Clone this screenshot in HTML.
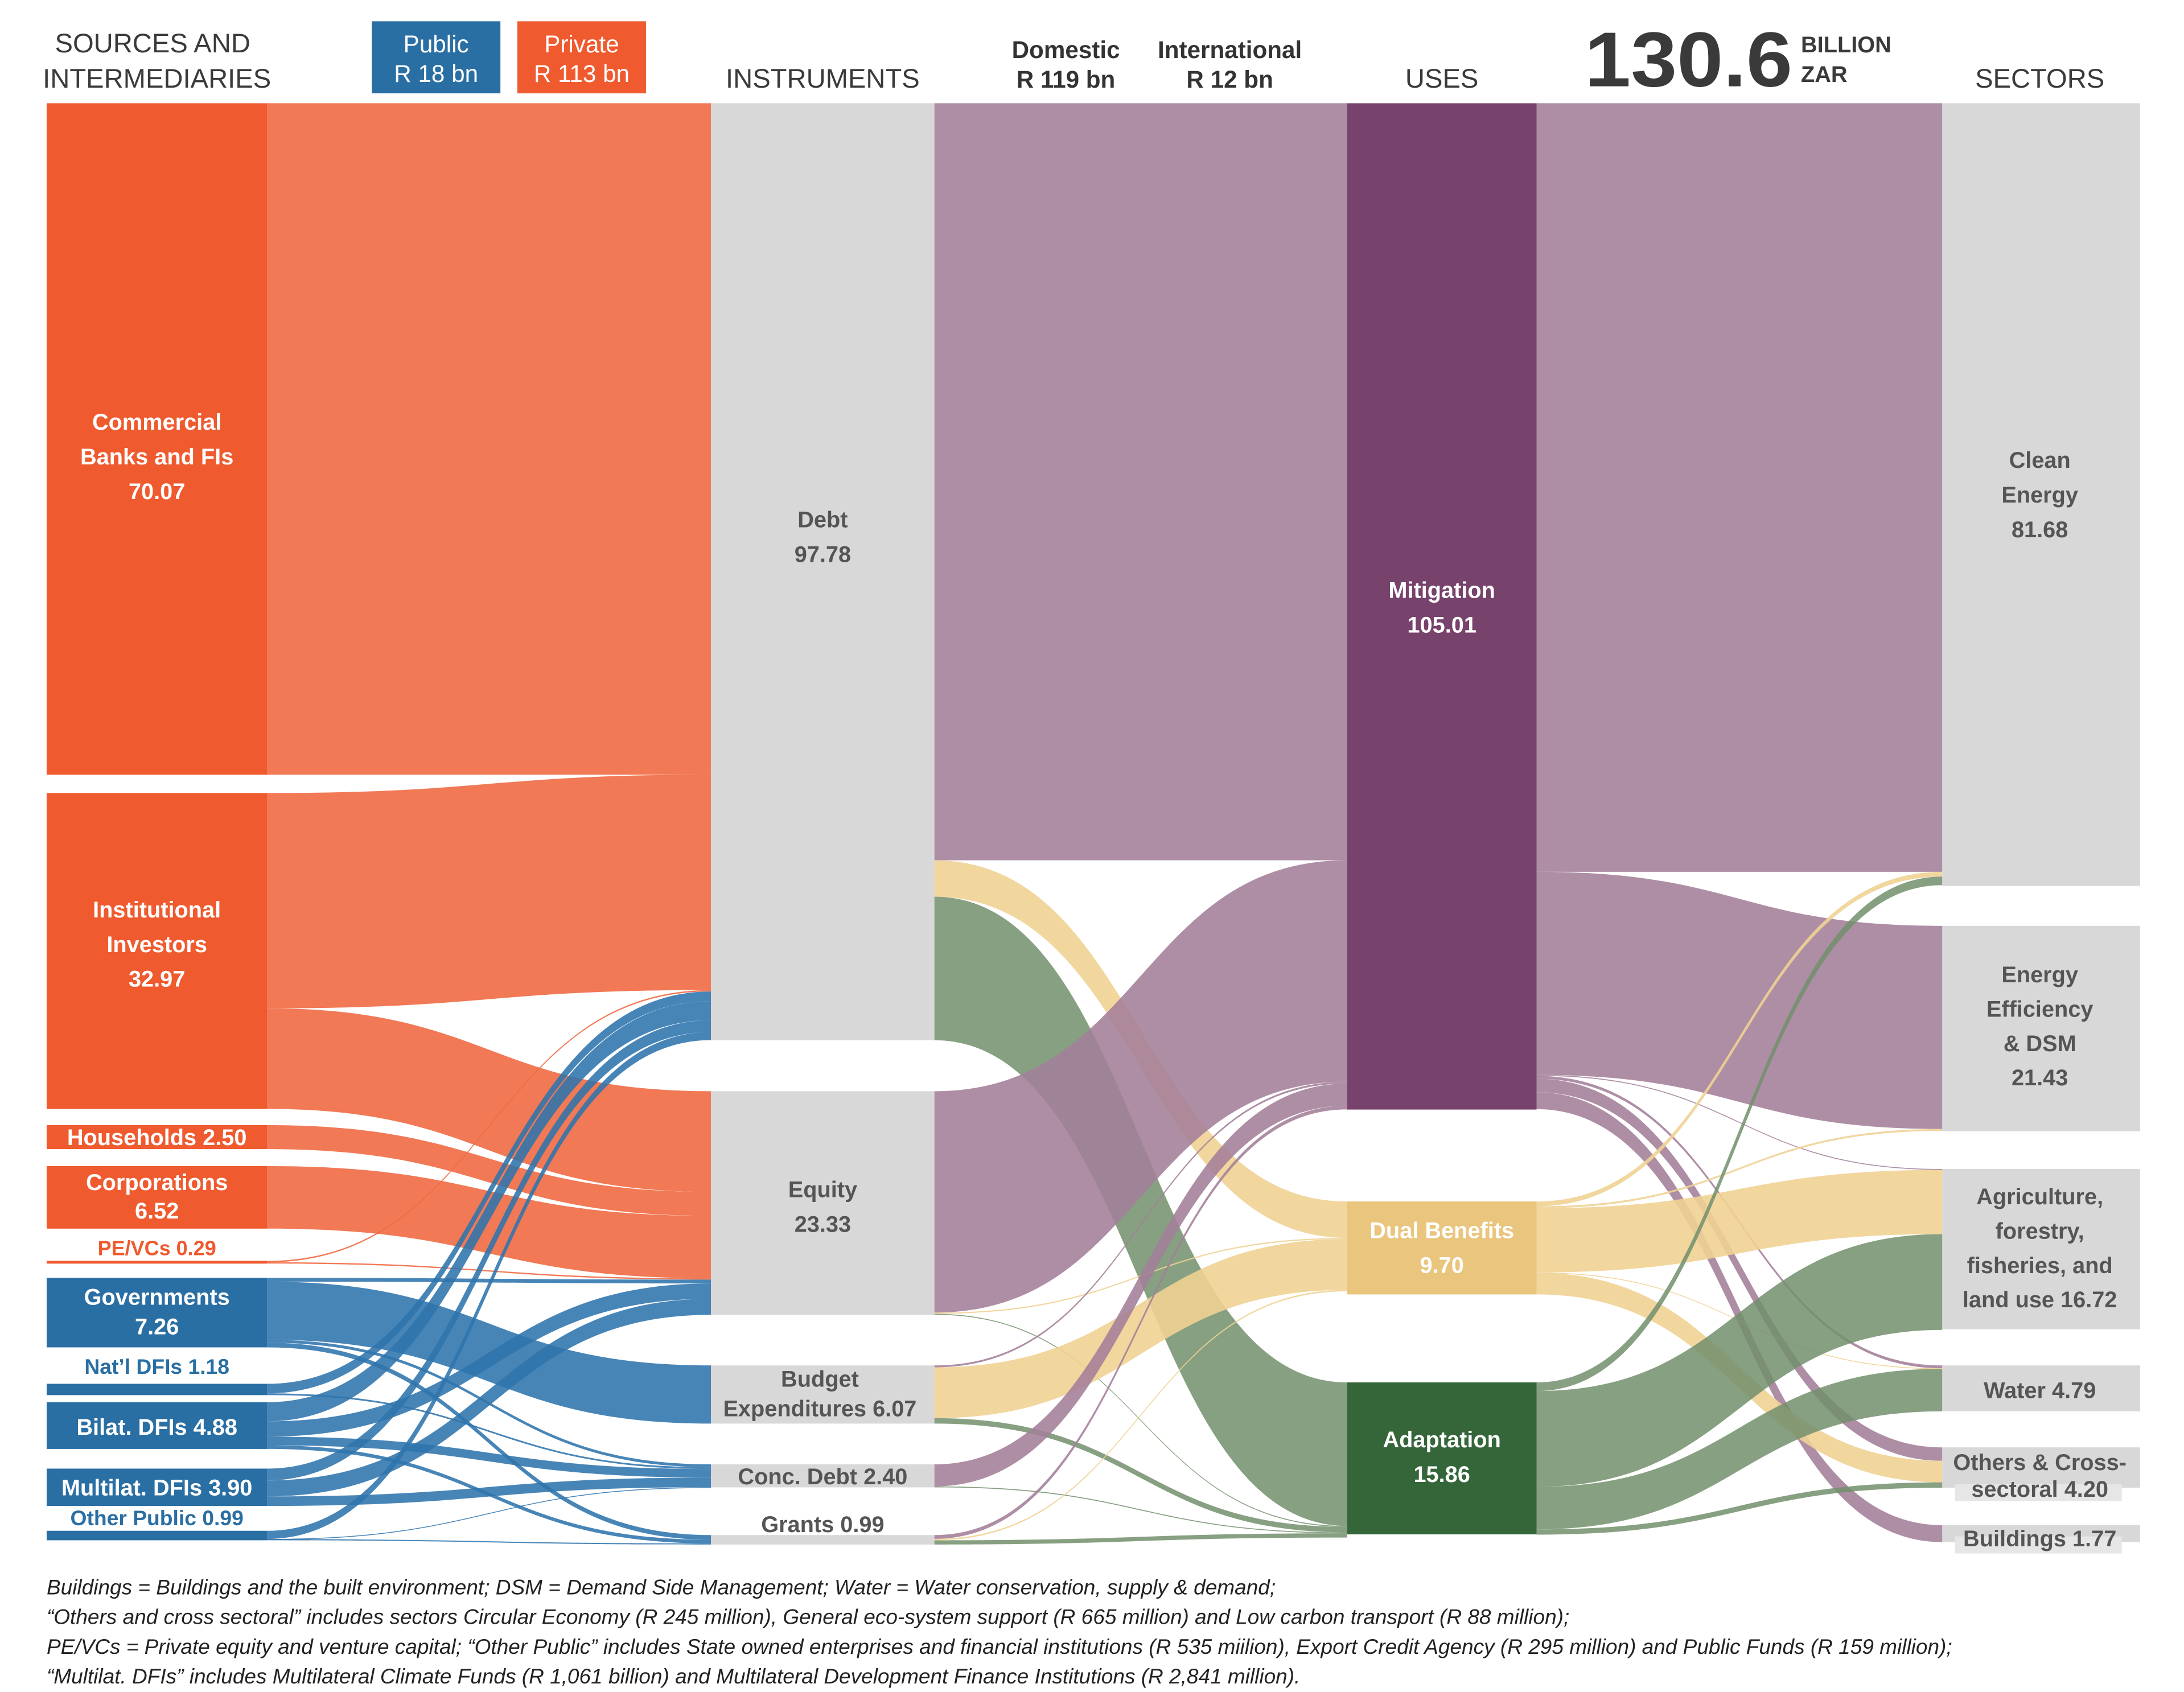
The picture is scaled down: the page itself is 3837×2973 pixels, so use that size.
<!DOCTYPE html>
<html><head><meta charset="utf-8">
<style>
html,body{margin:0;padding:0;background:#fff;}
svg{display:block;font-family:"Liberation Sans",sans-serif;}
.hd{font-size:19px;fill:#3a3a3a;text-anchor:middle;}
.nl{font-size:16px;font-weight:bold;fill:#fff;text-anchor:middle;}
.gl{font-size:16px;font-weight:bold;fill:#555;text-anchor:middle;}
.fn{font-size:14.9px;font-style:italic;fill:#222;}
</style></head>
<body>
<svg id="chart" width="3837" height="2973" viewBox="0 0 1545 1197" xmlns="http://www.w3.org/2000/svg">
<g id="links"></g>
<g id="nodes"></g>
<g id="labels">
 <text class="hd" x="108" y="37">SOURCES AND</text>
 <text class="hd" x="111" y="62">INTERMEDIARIES</text>
 <rect x="263" y="15" width="91" height="51" fill="#2a6fa3"/>
 <text x="308.5" y="37" font-size="17" fill="#fff" text-anchor="middle">Public</text>
 <text x="308.5" y="58" font-size="17" fill="#fff" text-anchor="middle">R 18 bn</text>
 <rect x="366" y="15" width="91" height="51" fill="#ef5a2e"/>
 <text x="411.5" y="37" font-size="17" fill="#fff" text-anchor="middle">Private</text>
 <text x="411.5" y="58" font-size="17" fill="#fff" text-anchor="middle">R 113 bn</text>
 <text class="hd" x="582" y="62">INSTRUMENTS</text>
 <text x="754" y="41" font-size="17" font-weight="bold" fill="#333" text-anchor="middle">Domestic</text>
 <text x="754" y="62" font-size="17" font-weight="bold" fill="#333" text-anchor="middle">R 119 bn</text>
 <text x="870" y="41" font-size="17" font-weight="bold" fill="#333" text-anchor="middle">International</text>
 <text x="870" y="62" font-size="17" font-weight="bold" fill="#333" text-anchor="middle">R 12 bn</text>
 <text class="hd" x="1020" y="62">USES</text>
 <text x="1121" y="61" font-size="55" font-weight="bold" fill="#3a3a3a" textLength="147" lengthAdjust="spacingAndGlyphs">130.6</text>
 <text x="1274" y="37" font-size="16" font-weight="bold" fill="#3a3a3a">BILLION</text>
 <text x="1274" y="58" font-size="16" font-weight="bold" fill="#3a3a3a">ZAR</text>
 <text class="hd" x="1443" y="62">SECTORS</text>

 <text class="nl" x="111" y="304"><tspan x="111">Commercial</tspan><tspan x="111" dy="24.5">Banks and FIs</tspan><tspan x="111" dy="24.5">70.07</tspan></text>
 <text class="nl" x="111" y="649"><tspan x="111">Institutional</tspan><tspan x="111" dy="24.5">Investors</tspan><tspan x="111" dy="24.5">32.97</tspan></text>
 <text class="nl" x="111" y="810" font-size="14.5">Households 2.50</text>
 <text class="nl" x="111" y="842" font-size="15"><tspan x="111">Corporations</tspan><tspan x="111" dy="20">6.52</tspan></text>
 <text x="111" y="888" font-size="14.5" font-weight="bold" fill="#ef5a2e" text-anchor="middle">PE/VCs 0.29</text>
 <text class="nl" x="111" y="923" font-size="15"><tspan x="111">Governments</tspan><tspan x="111" dy="21">7.26</tspan></text>
 <text x="111" y="972" font-size="15" font-weight="bold" fill="#2a6fa3" text-anchor="middle">Nat’l DFIs 1.18</text>
 <text class="nl" x="111" y="1015" font-size="15">Bilat. DFIs 4.88</text>
 <text class="nl" x="111" y="1058" font-size="15">Multilat. DFIs 3.90</text>
 <text x="111" y="1079" font-size="15" font-weight="bold" fill="#2a6fa3" text-anchor="middle">Other Public 0.99</text>

 <text class="gl" x="582" y="373"><tspan x="582">Debt</tspan><tspan x="582" dy="24.5">97.78</tspan></text>
 <text class="gl" x="582" y="847"><tspan x="582">Equity</tspan><tspan x="582" dy="24.5">23.33</tspan></text>
 <text class="gl" x="580" y="981"><tspan x="580">Budget</tspan><tspan x="580" dy="21">Expenditures 6.07</tspan></text>
 <text class="gl" x="582" y="1050">Conc. Debt 2.40</text>
 <text class="gl" x="582" y="1084">Grants 0.99</text>

 <text class="nl" x="1020" y="423"><tspan x="1020">Mitigation</tspan><tspan x="1020" dy="24.5">105.01</tspan></text>
 <text class="nl" x="1020" y="876"><tspan x="1020">Dual Benefits</tspan><tspan x="1020" dy="24.5">9.70</tspan></text>
 <text class="nl" x="1020" y="1024"><tspan x="1020">Adaptation</tspan><tspan x="1020" dy="24.5">15.86</tspan></text>

 <text class="gl" x="1443" y="331"><tspan x="1443">Clean</tspan><tspan x="1443" dy="24.5">Energy</tspan><tspan x="1443" dy="24.5">81.68</tspan></text>
 <text class="gl" x="1443" y="695"><tspan x="1443">Energy</tspan><tspan x="1443" dy="24.3">Efficiency</tspan><tspan x="1443" dy="24.3">&amp; DSM</tspan><tspan x="1443" dy="24.3">21.43</tspan></text>
 <text class="gl" x="1443" y="852"><tspan x="1443">Agriculture,</tspan><tspan x="1443" dy="24.3">forestry,</tspan><tspan x="1443" dy="24.3">fisheries, and</tspan><tspan x="1443" dy="24.3">land use 16.72</tspan></text>
 <text class="gl" x="1443" y="989">Water 4.79</text>
 <rect x="1383" y="1050" width="118" height="12" fill="#e6e6e6"/>
 <text class="gl" x="1443" y="1040" font-size="15"><tspan x="1443">Others &amp; Cross-</tspan><tspan x="1443" dy="19">sectoral 4.20</tspan></text>
 <rect x="1383" y="1087" width="118" height="12" fill="#e6e6e6"/>
 <text class="gl" x="1443" y="1094" font-size="15">Buildings 1.77</text>

 <text class="fn" x="33" y="1128">Buildings = Buildings and the built environment; DSM = Demand Side Management; Water = Water conservation, supply &amp; demand;</text>
 <text class="fn" x="33" y="1149">“Others and cross sectoral” includes sectors Circular Economy (R 245 million), General eco-system support (R 665 million) and Low carbon transport (R 88 million);</text>
 <text class="fn" x="33" y="1170">PE/VCs = Private equity and venture capital; “Other Public” includes State owned enterprises and financial institutions (R 535 miilion), Export Credit Agency (R 295 million) and Public Funds (R 159 million);</text>
 <text class="fn" x="33" y="1191">“Multilat. DFIs” includes Multilateral Climate Funds (R 1,061 billion) and Multilateral Development Finance Institutions (R  2,841 million).</text>
</g>
</svg>
<script>
// ---- data ----
const sources = ["Commercial Banks and FIs","Institutional Investors","Households","Corporations","PE/VCs","Governments","Nat'l DFIs","Bilat. DFIs","Multilat. DFIs","Other Public"];
const sourceValues = [70.07,32.97,2.50,6.52,0.29,7.26,1.18,4.88,3.90,0.99];
const sourceGroup = ["private","private","private","private","private","public","public","public","public","public"];
const instruments = ["Debt","Equity","Budget Expenditures","Conc. Debt","Grants"];
const instrumentValues = [97.78,23.33,6.07,2.40,0.99];
const uses = ["Mitigation","Dual Benefits","Adaptation"];
const useValues = [105.01,9.70,15.86];
const sectors = ["Clean Energy","Energy Efficiency & DSM","Agriculture, forestry, fisheries, and land use","Water","Others & Cross-sectoral","Buildings"];
const sectorValues = [81.68,21.43,16.72,4.79,4.20,1.77];
// flows: [sourceIndex, targetIndex, value]
const flowsSourceInstrument = [
 [0,0,70.07],[1,0,22.47],[1,1,10.50],[2,1,2.50],[3,1,6.52],[4,0,0.15],[4,1,0.14],
 [5,1,0.40],[5,2,6.07],[5,3,0.30],[5,4,0.49],
 [6,0,1.00],[6,3,0.18],
 [7,0,2.00],[7,1,1.60],[7,3,0.90],[7,4,0.38],
 [8,0,1.23],[8,1,1.67],[8,3,1.00],
 [9,0,0.85],[9,3,0.02],[9,4,0.12]
];
const flowsInstrumentUse = [
 [0,0,79.00],[0,1,3.80],[0,2,14.98],
 [1,0,23.10],[1,1,0.13],[1,2,0.10],
 [2,0,0.20],[2,1,5.30],[2,2,0.57],
 [3,0,2.30],[3,2,0.10],
 [4,0,0.40],[4,1,0.15],[4,2,0.44]
];
const flowsUseSector = [
 [0,0,80.20],[0,1,21.20],[0,2,0.10],[0,3,0.30],[0,4,1.40],[0,5,1.77],
 [1,0,0.50],[1,1,0.20],[1,2,6.70],[1,3,0.05],[1,4,2.25],
 [2,0,0.90],[2,2,10.00],[2,3,4.44],[2,4,0.55]
];
// ---- layout ----
const K = 6.78;
const colX = [[33,189],[503,661],[953,1087],[1374,1514]];
const sourceTops = [73,561,796,825,892,904,979,992,1039,1083];
const instrumentTops = [73,772,966,1036,1086];
const useTops = [73,850,978];
const sectorTops = [73,655,827,966,1024,1079];
const NS = "http://www.w3.org/2000/svg";
const linksG = document.getElementById("links");
const nodesG = document.getElementById("nodes");
const scale = v => v * K;

function drawNodes(names, vals, tops, col, fillFn, prefix){
  names.forEach((n,i)=>{
    const r = document.createElementNS(NS,"rect");
    r.setAttribute("x", colX[col][0]);
    r.setAttribute("y", tops[i]);
    r.setAttribute("width", colX[col][1]-colX[col][0]);
    r.setAttribute("height", Math.max(1.5, scale(vals[i])));
    r.setAttribute("fill", fillFn(i));
    
    
    nodesG.appendChild(r);
  });
}
function drawLinks(flows, srcTops, tgtTops, col, colorFn, prefix){
  const sOff = srcTops.map(()=>0), tOff = tgtTops.map(()=>0);
  const x0 = colX[col][1], x1 = colX[col+1][0], xm = (x0+x1)/2;
  const bySrc = flows.slice().sort((a,b)=>a[0]-b[0]||a[1]-b[1]);
  const sY = new Map();
  bySrc.forEach(f=>{ sY.set(f, srcTops[f[0]]+sOff[f[0]]); sOff[f[0]]+=scale(f[2]); });
  const byTgt = flows.slice().sort((a,b)=>a[1]-b[1]||a[0]-b[0]);
  const tY = new Map();
  byTgt.forEach(f=>{ tY.set(f, tgtTops[f[1]]+tOff[f[1]]); tOff[f[1]]+=scale(f[2]); });
  flows.forEach((f,i)=>{
    const w = Math.max(0.6, scale(f[2]));
    const y0 = sY.get(f), y1 = tY.get(f);
    const p = document.createElementNS(NS,"path");
    p.setAttribute("d", `M${x0},${y0} C${xm},${y0} ${xm},${y1} ${x1},${y1} L${x1},${y1+w} C${xm},${y1+w} ${xm},${y0+w} ${x0},${y0+w} Z`);
    const c = colorFn(f);
    p.setAttribute("fill", c[0]);
    p.setAttribute("fill-opacity", c[1]);
    
    
    linksG.appendChild(p);
  });
}
const useLink = ["#a37e98","#f0d293","#728f6c"];
const useLinkOp = [0.88,0.9,0.85];
const useNode = ["#77426b","#e9c57d","#35663a"];
drawLinks(flowsSourceInstrument, sourceTops, instrumentTops, 0,
  f => sourceGroup[f[0]]==="private" ? ["#ef6a43",0.9] : ["#2f74ad",0.88], "source-instrument");
drawLinks(flowsInstrumentUse, instrumentTops, useTops, 1,
  f => [useLink[f[1]], useLinkOp[f[1]]], "instrument-use");
drawLinks(flowsUseSector, useTops, sectorTops, 2,
  f => [useLink[f[0]], useLinkOp[f[0]]], "use-sector");
drawNodes(sources, sourceValues, sourceTops, 0, i => sourceGroup[i]==="private" ? "#ef5a2e" : "#2a6fa3", "source");
drawNodes(instruments, instrumentValues, instrumentTops, 1, () => "#d8d8d8", "instrument");
drawNodes(uses, useValues, useTops, 2, i => useNode[i], "use");
drawNodes(sectors, sectorValues, sectorTops, 3, () => "#d8d8d8", "sector");
</script>
</body></html>
